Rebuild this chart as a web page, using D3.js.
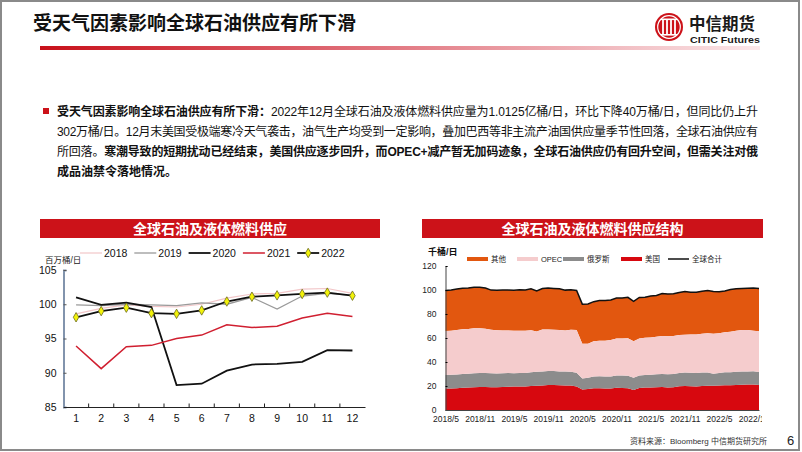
<!DOCTYPE html>
<html><head><meta charset="utf-8">
<script src="https://cdn.jsdelivr.net/npm/d3@7"></script>
<style>
body{margin:0;background:#fff;}
svg{display:block;font-family:"Liberation Sans",Arial,"Noto Sans CJK SC",sans-serif;}
</style></head><body>
<svg id="page" width="802" height="452"></svg>
<script>
// ---------------- DATA ----------------
const pageTitle = "受天气因素影响全球石油供应有所下滑";
const paraLines = [
  [["受天气因素影响全球石油供应有所下滑：", true], ["2022年12月全球石油及液体燃料供应量为1.0125亿桶/日，环比下降40万桶/日，但同比仍上升", false]],
  [["302万桶/日。12月末美国受极端寒冷天气袭击，油气生产均受到一定影响，叠加巴西等非主流产油国供应量季节性回落，全球石油供应有", false]],
  [["所回落。", false], ["寒潮导致的短期扰动已经结束，美国供应逐步回升，而OPEC+减产暂无加码迹象，全球石油供应仍有回升空间，但需关注对俄", true]],
  [["成品油禁令落地情况。", true]]
];
const leftTitle = "全球石油及液体燃料供应";
const rightTitle = "全球石油及液体燃料供应结构";
const leftUnit = "百万桶/日";
const rightUnit = "千桶/日";
const sourceText = "资料来源：Bloomberg 中信期货研究所";
const pageNo = "6";

const months = ["1","2","3","4","5","6","7","8","9","10","11","12"];
const yearNames = ["2018","2019","2020","2021","2022"];
const supply2018 = [98.6, 99.4, 99.9, 99.7, 99.6, 100.0, 100.9, 101.5, 101.6, 102.2, 102.3, 101.6];
const supply2019 = [99.9, 99.8, 100.0, 99.9, 99.8, 100.2, 100.0, 101.0, 99.3, 101.2, 101.6, 101.3];
const supply2020 = [101.0, 99.9, 100.25, 99.6, 88.2, 88.4, 90.3, 91.2, 91.3, 91.6, 93.3, 93.25];
const supply2021 = [93.9, 90.6, 93.8, 94.0, 95.0, 95.5, 97.0, 96.6, 96.8, 98.0, 98.7, 98.2];
const supply2022 = [98.1, 99.0, 99.5, 98.7, 98.6, 99.1, 100.4, 101.1, 101.3, 101.5, 101.7, 101.25];
const leftYTicks = [85, 90, 95, 100, 105];

const structDates = d3.timeMonths(new Date(2018, 4, 1), new Date(2023, 0, 1)).map(d3.timeFormat("%Y/%-m"));
const structTickLabels = ["2018/5","2018/11","2019/5","2019/11","2020/5","2020/11","2021/5","2021/11","2022/5","2022/11"];
const structKeys = ["美国","俄罗斯","OPEC","其他","全球合计"];
const usSupply = [17.9, 18.0, 18.2, 18.5, 18.7, 19.0, 19.2, 19.2,
  19.0, 19.0, 19.2, 19.4, 19.5, 19.6, 19.5, 20.0, 20.3, 20.5, 20.8, 20.8,
  20.6, 20.5, 20.4, 19.6, 17.0, 17.6, 18.2, 18.1, 18.0, 17.9, 18.5, 18.4,
  18.2, 16.6, 18.4, 18.7, 18.8, 19.0, 19.1, 18.8, 18.9, 19.7, 20.0, 19.8,
  19.6, 19.9, 20.2, 20.2, 20.4, 20.6, 20.6, 20.9, 21.1, 21.2, 21.3, 20.9];
const russiaSupply = [11.3, 11.3, 11.4, 11.5, 11.6, 11.7, 11.7, 11.7,
  11.6, 11.5, 11.5, 11.4, 11.2, 11.2, 11.4, 11.5, 11.5, 11.5, 11.6, 11.6,
  11.5, 11.5, 11.5, 11.4, 9.3, 9.3, 9.7, 10.0, 10.0, 10.0, 10.2, 10.3,
  10.3, 10.2, 10.3, 10.5, 10.6, 10.7, 10.8, 10.9, 11.0, 11.2, 11.3, 11.3,
  11.3, 11.3, 11.0, 10.0, 10.5, 10.8, 10.8, 10.9, 10.9, 10.9, 10.9, 10.8];
const opecSupply = [36.6, 36.8, 37.0, 37.2, 37.3, 37.4, 37.3, 36.9,
  36.2, 35.9, 35.6, 35.5, 35.4, 35.3, 35.1, 35.0, 33.6, 35.0, 34.6, 34.5,
  34.5, 34.3, 35.0, 35.6, 29.0, 28.3, 29.3, 29.6, 29.8, 30.4, 30.9, 30.9,
  31.3, 30.5, 30.9, 31.0, 31.1, 31.4, 31.8, 31.8, 31.7, 31.6, 31.5, 31.9,
  32.1, 32.4, 32.7, 33.4, 33.0, 33.3, 33.9, 34.3, 34.6, 34.5, 33.9, 33.9];
const worldSupply = [99.6, 100.0, 100.9, 101.5, 101.6, 102.2, 102.3, 101.6,
  99.9, 99.8, 100.0, 99.9, 99.8, 100.2, 100.0, 101.0, 99.3, 101.2, 101.6, 101.3,
  101.0, 99.9, 100.25, 99.6, 88.2, 88.4, 90.3, 91.2, 91.3, 91.6, 93.3, 93.25,
  93.9, 90.6, 93.8, 94.0, 95.0, 95.5, 97.0, 96.6, 96.8, 98.0, 98.7, 98.2,
  98.1, 99.0, 99.5, 98.7, 98.6, 99.1, 100.4, 101.1, 101.3, 101.5, 101.7, 101.25];
const rightYTicks = [0, 20, 40, 60, 80, 100, 120];

// ---------------- DRAW ----------------
const svg = d3.select("#page");
const RED = "#cc1219";

// frame
svg.append("rect").attr("x",1).attr("y",1).attr("width",798).attr("height",449)
  .attr("fill","#fff").attr("stroke","#8a8a8a").attr("stroke-width",2);

// header
svg.append("text").attr("x",33).attr("y",30).attr("font-size",19).attr("font-weight","bold")
  .attr("font-family","'Noto Sans CJK SC',sans-serif").attr("fill","#111").text(pageTitle);
const grad = svg.append("defs").append("linearGradient").attr("id","hg");
grad.append("stop").attr("offset","0%").attr("stop-color","#c8101a");
grad.append("stop").attr("offset","45%").attr("stop-color","#e0707a");
grad.append("stop").attr("offset","100%").attr("stop-color","#fbe8ea");
svg.append("rect").attr("x",40).attr("y",46).attr("width",720).attr("height",4).attr("fill","url(#hg)");

// logo
const logo = svg.append("g").attr("transform","translate(669,27)");
logo.append("circle").attr("r",14).attr("fill",RED);
logo.append("circle").attr("r",11.3).attr("fill","none").attr("stroke","#fff").attr("stroke-width",1.2);
[-6,-2,2,6].forEach(dx=>logo.append("rect").attr("x",dx-0.9).attr("y",-7).attr("width",1.8).attr("height",14).attr("fill","#fff"));
logo.append("rect").attr("x",-8).attr("y",-8.5).attr("width",16).attr("height",1.6).attr("fill","#fff");
logo.append("rect").attr("x",-8).attr("y",7).attr("width",16).attr("height",1.6).attr("fill","#fff");
svg.append("text").attr("x",689).attr("y",30).attr("font-size",16.5).attr("font-weight","bold")
  .attr("font-family","'Noto Sans CJK SC',serif").attr("fill","#1a1a1a").text("中信期货");
svg.append("text").attr("x",690).attr("y",42.5).attr("font-size",9.5).attr("font-weight","bold")
  .attr("textLength",70).attr("lengthAdjust","spacingAndGlyphs")
  .attr("fill","#1a1a1a").text("CITIC Futures");

// paragraph
svg.append("rect").attr("x",43).attr("y",108).attr("width",6).attr("height",6).attr("fill",RED);
const paraX = 57, paraRight = 758;
paraLines.forEach((segs, i) => {
  const t = svg.append("text").attr("x", paraX).attr("y", 116 + i*20).attr("font-size",12).attr("fill","#111");
  segs.forEach(([s,b]) => t.append("tspan").attr("font-weight", b ? "bold" : "normal").text(s));
  if (i < 3) {
    const len = t.node().getComputedTextLength();
    const n = segs.reduce((a,[s])=>a+[...s].length,0);
    t.attr("letter-spacing", ((paraRight - paraX) - len) / (n - 1));
  }
});

// title bars
function titleBar(x0, x1, txt) {
  svg.append("rect").attr("x",x0).attr("y",219).attr("width",x1-x0).attr("height",19).attr("fill",RED);
  svg.append("text").attr("x",(x0+x1)/2).attr("y",233.5).attr("text-anchor","middle")
    .attr("font-size",14).attr("font-weight","bold").attr("fill","#fff")
    .attr("font-family","'Noto Sans CJK SC',sans-serif").text(txt);
}
titleBar(40, 380, leftTitle);
titleBar(422, 763, rightTitle);

// ---------- left chart ----------
const xL = d3.scaleBand().domain(months).range([63.5, 365]);
const yL = d3.scaleLinear().domain([85, 105]).range([407, 270]);
const cx = m => xL(m) + xL.bandwidth()/2;
const gL = svg.append("g");

const yAxL = gL.append("g").attr("transform","translate(63.5,0)")
  .call(d3.axisLeft(yL).tickValues(leftYTicks).tickSize(-3).tickPadding(7));
yAxL.select(".domain").attr("stroke","#8294ad").attr("stroke-width",2);
yAxL.selectAll(".tick line").attr("stroke","#555");
yAxL.selectAll("text").attr("font-size",10.5).attr("fill","#111").attr("font-family","'Liberation Sans',Arial");

const xAxL = gL.append("g").attr("transform","translate(0,407)")
  .call(d3.axisBottom(xL).tickSize(0).tickPadding(8));
xAxL.select(".domain").attr("stroke","#222").attr("stroke-width",1.2);
xAxL.selectAll("text").attr("font-size",10.5).attr("fill","#111").attr("font-family","'Liberation Sans',Arial");
gL.selectAll(".btick").data(months.slice(1)).join("line")
  .attr("x1",d=>xL(d)).attr("x2",d=>xL(d)).attr("y1",407).attr("y2",403.5).attr("stroke","#222");

gL.append("text").attr("x",45).attr("y",262.5).attr("font-size",8.5).attr("fill","#222").text(leftUnit);

const seriesL = [
  {name: yearNames[0], vals: supply2018, color:"#f2c6c8", w:1.2},
  {name: yearNames[1], vals: supply2019, color:"#9a9a9a", w:1.3},
  {name: yearNames[2], vals: supply2020, color:"#111", w:1.8},
  {name: yearNames[3], vals: supply2021, color:"#d01f30", w:1.5},
  {name: yearNames[4], vals: supply2022, color:"#111", w:1.8, marker:true}
];
const lineL = d3.line().x((d,i)=>cx(months[i])).y(d=>yL(d));
seriesL.forEach(s => {
  gL.append("path").attr("d", lineL(s.vals)).attr("fill","none").attr("stroke",s.color).attr("stroke-width",s.w);
});
const diamond = d3.symbol().type(d3.symbolDiamond).size(26);
gL.selectAll(".mk").data(supply2022).join("path")
  .attr("transform",(d,i)=>`translate(${cx(months[i])},${yL(d)})`)
  .attr("d", diamond()).attr("fill","#f2f20a").attr("stroke","#6b6b20").attr("stroke-width",0.8);

// left legend
seriesL.forEach((s,i) => {
  const x = 80 + i*54.3, y = 253;
  gL.append("line").attr("x1",x).attr("x2",x+22).attr("y1",y).attr("y2",y).attr("stroke",s.color).attr("stroke-width",s.w);
  if (s.marker) gL.append("path").attr("transform",`translate(${x+11},${y})`).attr("d",diamond())
    .attr("fill","#f2f20a").attr("stroke","#6b6b20").attr("stroke-width",0.8);
  gL.append("text").attr("x",x+24).attr("y",y+3.7).attr("font-size",10.5).attr("fill","#111").text(s.name);
});

// ---------- right chart ----------
const xR = d3.scalePoint().domain(structDates).range([445.5, 759]);
const yR = d3.scaleLinear().domain([0, 120]).range([410, 266]);
const gR = svg.append("g");
const rows = structDates.map((d,i)=>({date:d, us:usSupply[i], russia:russiaSupply[i], opec:opecSupply[i], world:worldSupply[i]}));
const stacked = d3.stack().keys(["us","russia","opec"])(rows);
const colors = {other:"#e2570f", opec:"#f5cccd", russia:"#8c8c8c", us:"#d7080f", world:"#111"};
const areaS = d3.area().x(d=>xR(d.data.date)).y0(d=>yR(d[0])).y1(d=>yR(d[1]));
// other band: from OPEC top to world total
const opecTop = stacked[2];
gR.append("path").attr("d", d3.area().x((d,i)=>xR(rows[i].date)).y0(d=>yR(d[1])).y1((d,i)=>yR(rows[i].world))(opecTop))
  .attr("fill", colors.other);
stacked.forEach(layer => gR.append("path").attr("d", areaS(layer)).attr("fill", colors[layer.key]));
gR.append("path").attr("d", d3.line().x(d=>xR(d.date)).y(d=>yR(d.world))(rows))
  .attr("fill","none").attr("stroke",colors.world).attr("stroke-width",1.5);

const yAxR = gR.append("g").attr("transform","translate(445.5,0)")
  .call(d3.axisLeft(yR).tickValues(rightYTicks).tickSize(-2).tickPadding(9));
yAxR.select(".domain").attr("stroke","#444");
yAxR.selectAll("text").attr("font-size",8.5).attr("fill","#222").attr("font-family","'Liberation Sans',Arial");

svg.append("clipPath").attr("id","rclip").append("rect").attr("x",400).attr("y",-10).attr("width",362).attr("height",40);
const xAxR = gR.append("g").attr("transform","translate(0,410)").attr("clip-path","url(#rclip)")
  .call(d3.axisBottom(xR).tickValues(structTickLabels).tickSize(0).tickPadding(6));
xAxR.select(".domain").attr("stroke","#444");
xAxR.selectAll("text").attr("font-size",8.5).attr("fill","#222").attr("font-family","'Liberation Sans',Arial");

gR.append("text").attr("x",428).attr("y",255).attr("font-size",9).attr("font-weight","bold").attr("fill","#111").text(rightUnit);

const legR = [
  {name:structKeys[3], c:colors.other, w:4},
  {name:structKeys[2], c:colors.opec, w:4},
  {name:structKeys[1], c:colors.russia, w:4},
  {name:structKeys[0], c:colors.us, w:4},
  {name:structKeys[4], c:colors.world, w:1.5}
];
const legRX = [467, 517, 563, 621, 668];
legR.forEach((d,i) => {
  const x = legRX[i], y = 259;
  gR.append("line").attr("x1",x).attr("x2",x+21).attr("y1",y).attr("y2",y).attr("stroke",d.c).attr("stroke-width",d.w);
  gR.append("text").attr("x",x+24).attr("y",y+2.8).attr("font-size",7.5).attr("fill","#222").text(d.name);
});

// footer
svg.append("text").attr("x",630).attr("y",443.5).attr("font-size",8).attr("fill","#333").text(sourceText);
svg.append("text").attr("x",787).attr("y",445).attr("font-size",13).attr("fill","#222").text(pageNo);
</script></body></html>
